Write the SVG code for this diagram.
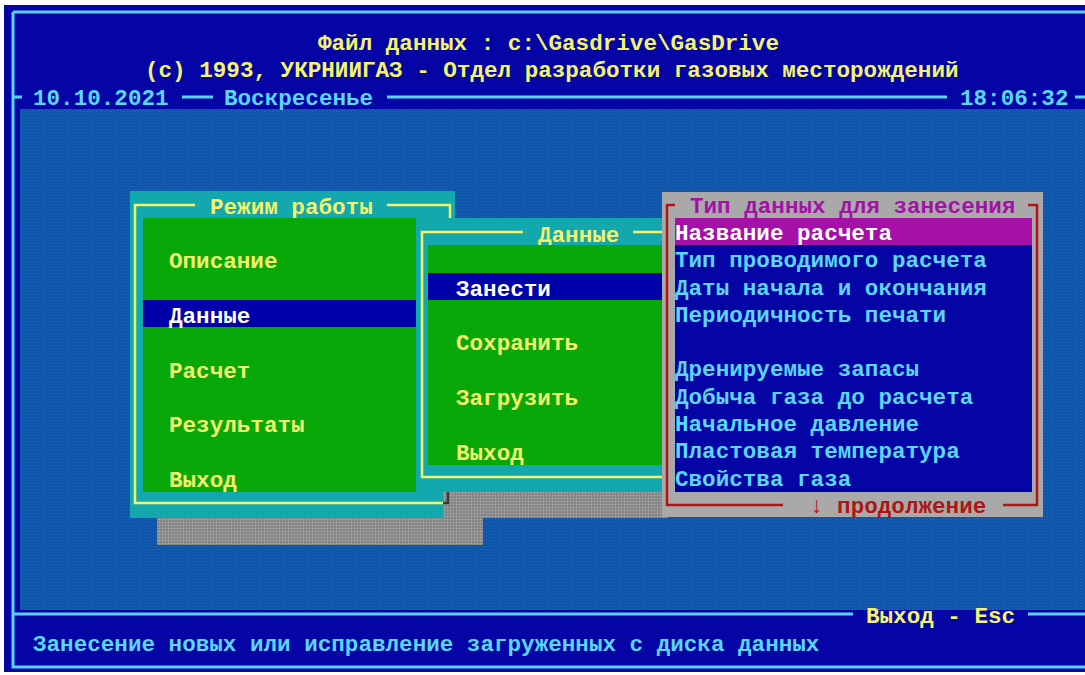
<svg xmlns="http://www.w3.org/2000/svg" width="1085" height="675" viewBox="0 0 1085 675">
<style>
text{font-family:"Liberation Mono","DejaVu Sans Mono",monospace;font-weight:bold;font-size:22.6px}
.y{fill:#f4f46c}.c{fill:#5ad6ff}.w{fill:#ffffff}.m{fill:#a410a8}.r{fill:#b01414}
.ln{fill:none;stroke:#5ad2ff;stroke-width:3}
.yl{fill:none;stroke:#f4f46c;stroke-width:2.5}
.rl{fill:none;stroke:#b01414;stroke-width:2.5}
</style>
<defs>
<pattern id="desk" width="3" height="3" patternUnits="userSpaceOnUse">
<rect width="3" height="3" fill="#0a52a8"/>
<rect x="0" y="0" width="1" height="1" fill="#2a6ec0"/>
<rect x="1.5" y="1.5" width="1" height="1" fill="#2a6ec0"/>
</pattern>
<pattern id="shade" width="3" height="3" patternUnits="userSpaceOnUse">
<rect width="3" height="3" fill="#8e8e8e"/>
<rect x="0" y="0" width="1" height="1" fill="#b0b0b0"/>
<rect x="1.5" y="1.5" width="1" height="1" fill="#707070"/>
</pattern>
</defs>
<rect width="1085" height="675" fill="#ffffff"/>
<g id="screen">
<rect x="4" y="5" width="1081" height="667" fill="#0505a6"/>
<rect x="20" y="109" width="1065" height="501" fill="url(#desk)"/>
</g>
<g id="frame-lines">
<path class="ln" d="M13,12 H1085 M13,12 V667 H1085 M13,97 H22 M182,97 H213 M387,97 H947 M1075,97 H1085 M13,614 H853 M1028,614 H1085"/>
</g>
<g id="header">
<text class="y" x="318" y="50">Файл данных : c:\Gasdrive\GasDrive</text>
<text class="y" x="145" y="77">(c) 1993, УКРНИИГАЗ - Отдел разработки газовых месторождений</text>
<text class="c" x="33" y="105">10.10.2021</text>
<text class="c" x="224" y="105">Воскресенье</text>
<text class="c" x="960" y="105">18:06:32</text>
</g>
<g id="footer">
<text class="y" x="866" y="623">Выход - Esc</text>
<text class="c" x="33" y="651">Занесение новых или исправление загруженных с диска данных</text>
</g>
<g id="menu-main">
<rect x="157" y="518" width="326" height="27" fill="url(#shade)"/>
<rect x="130" y="191" width="325" height="327" fill="#12a8ae"/>
<path class="yl" d="M195,205 H135 V503 H450 V205 H387"/>
<text class="y" x="210" y="214">Режим работы</text>
<rect x="143" y="218" width="299" height="274" fill="#08a808"/>
<rect x="143" y="300" width="299" height="27" fill="#0000a8"/>
<text class="y" x="169" y="268">Описание</text>
<text class="w" x="169" y="323">Данные</text>
<text class="y" x="169" y="378">Расчет</text>
<text class="y" x="169" y="432">Результаты</text>
<text class="y" x="169" y="487">Выход</text>
</g>
<g id="menu-data">
<rect x="443" y="492" width="225" height="26" fill="url(#shade)"/>
<path d="M448,492 V503 H443" fill="none" stroke="#3a3a3a" stroke-width="2.5"/>
<rect x="416" y="218" width="252" height="274" fill="#12a8ae"/>
<path class="yl" d="M523,232 H422 V477 H668 M633,232 H668"/>
<text class="y" x="538" y="242">Данные</text>
<rect x="428" y="245" width="240" height="220" fill="#08a808"/>
<rect x="428" y="273" width="240" height="27" fill="#0000a8"/>
<text class="w" x="456" y="296">Занести</text>
<text class="y" x="456" y="350">Сохранить</text>
<text class="y" x="456" y="405">Загрузить</text>
<text class="y" x="456" y="460">Выход</text>
</g>
<g id="menu-type">
<rect x="662" y="192" width="381" height="325" fill="#a9a9a9"/>
<path class="rl" d="M675,205 H667 V505 H783 M1003,505 H1037 V205 H1028"/>
<text class="m" x="690" y="213">Тип данных для занесения</text>
<rect x="675" y="218" width="357" height="274" fill="#0505a6"/>
<rect x="675" y="218" width="357" height="27" fill="#a410a8"/>
<text class="w" x="675" y="240">Название расчета</text>
<text class="c" x="675" y="267">Тип проводимого расчета</text>
<text class="c" x="675" y="295">Даты начала и окончания</text>
<text class="c" x="675" y="322">Периодичность печати</text>
<text class="c" x="675" y="376">Дренируемые запасы</text>
<text class="c" x="675" y="404">Добыча газа до расчета</text>
<text class="c" x="675" y="431">Начальное давление</text>
<text class="c" x="675" y="458">Пластовая температура</text>
<text class="c" x="675" y="486">Свойства газа</text>
<text class="r" x="810" y="513">↓ продолжение</text>
</g>
</svg>
